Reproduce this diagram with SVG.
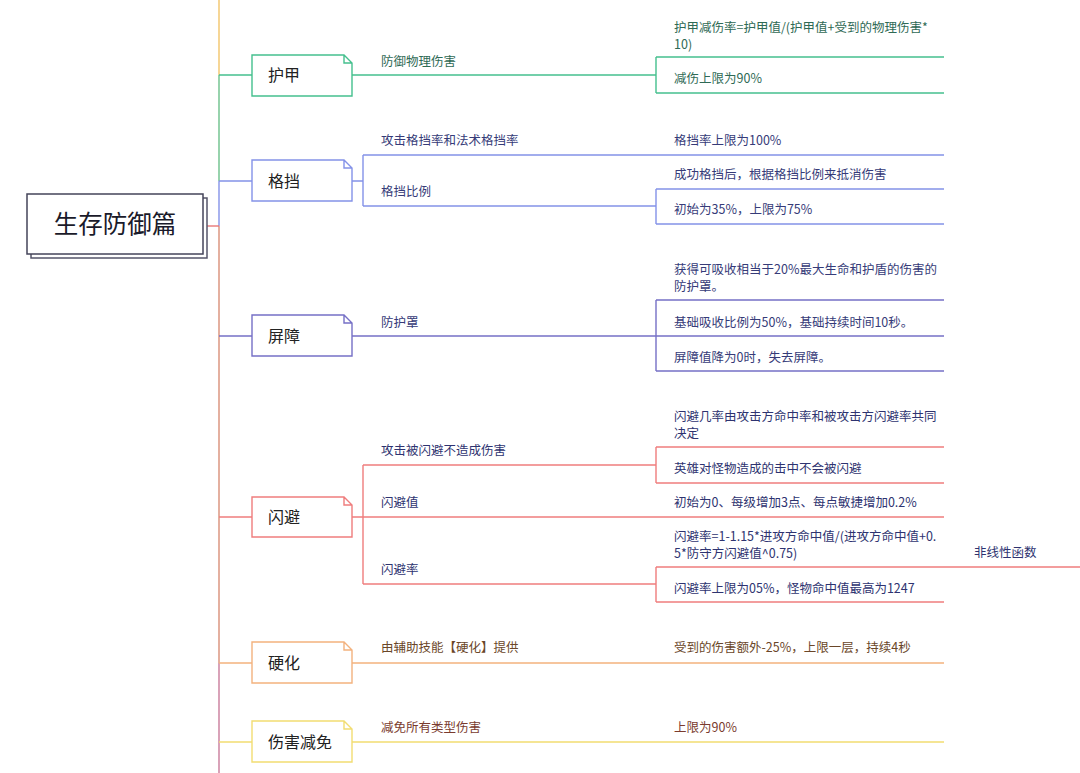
<svg xmlns="http://www.w3.org/2000/svg" width="1080" height="773" viewBox="0 0 1080 773">
<style>
text{font-family:"Noto Sans CJK SC","Noto Sans",sans-serif;}
.l{font-size:12.5px;}
.n{font-size:16px;fill:#222;}
.c{fill:none;stroke-width:1.4;}
.box{fill:#fff;stroke-width:1.4;}
.g{stroke:#45c08e;} .gt{fill:#2f6a55;}
.b{stroke:#8492e8;} .bt{fill:#363b78;}
.p{stroke:#7670c6;} .pt{fill:#363b78;}
.r{stroke:#ef7d7d;} .rt{fill:#2e3370;}
.o{stroke:#f3b27e;} .ot{fill:#6a4628;}
.y{stroke:#f2dd72;} .yt{fill:#7a3b2e;}
</style>
<rect width="1080" height="773" fill="#fff"/>
<g id="connectors">
  <line class="c" x1="219" y1="0" x2="219" y2="75" stroke="#f2c56a"/>
  <line class="c" x1="219" y1="75" x2="219" y2="181" stroke="#6cc08a"/>
  <line class="c" x1="219" y1="181" x2="219" y2="226" stroke="#8492e8"/>
  <line class="c" x1="219" y1="226" x2="219" y2="663" stroke="#d98f78"/>
  <line class="c" x1="219" y1="663" x2="219" y2="773" stroke="#c97b9b"/>
  <line class="c" x1="203" y1="226" x2="219" y2="226" stroke="#e87878"/>
  <path class="c g" d="M219,75 H252 M352,75 H656 M656,57 V93 M656,57 H944 M656,93 H944"/>
  <path class="c b" d="M219,181 H252 M352,181 H363 M363,155 V206 M363,155 H944 M363,206 H656 M656,189 V224 M656,189 H944 M656,224 H944"/>
  <path class="c p" d="M219,336 H252 M352,336 H944 M656,300 V371 M656,300 H944 M656,371 H944"/>
  <path class="c r" d="M219,517 H252 M352,517 H363 M363,465 V584 M363,465 H656 M363,517 H944 M363,584 H656 M656,447 V483 M656,447 H944 M656,483 H944 M656,567 V602 M656,567 H1080 M656,602 H944"/>
  <path class="c o" d="M219,663 H252 M352,663 H944"/>
  <path class="c y" d="M219,742 H252 M352,742 H944"/>
</g>
<g id="root">
  <rect x="31" y="198" width="176" height="60" fill="#fff" stroke="#55556a" stroke-width="1.5"/>
  <rect x="27" y="194" width="176" height="60" fill="#fff" stroke="#44445a" stroke-width="1.5"/>
  <text x="115" y="233" text-anchor="middle" font-size="24.5" fill="#1a1a2a">生存防御篇</text>
</g>
<g id="node-huja">
  <path class="box g" d="M252,55 H344 L352,63 V96 H252 Z M344,55 V63 H352"/>
  <text class="n" x="268" y="81">护甲</text>
  <text class="l gt" x="381" y="66">防御物理伤害</text>
  <text class="l gt" x="674" y="31.5">护甲减伤率=护甲值/(护甲值+受到的物理伤害*<tspan x="674" dy="17">10)</tspan></text>
  <text class="l gt" x="674" y="83">减伤上限为90%</text>
</g>
<g id="node-gedang">
  <path class="box b" d="M252,160 H344 L352,168 V201 H252 Z M344,160 V168 H352"/>
  <text class="n" x="268" y="187">格挡</text>
  <text class="l bt" x="381" y="145">攻击格挡率和法术格挡率</text>
  <text class="l bt" x="381" y="196">格挡比例</text>
  <text class="l bt" x="674" y="145">格挡率上限为100%</text>
  <text class="l bt" x="674" y="179">成功格挡后，根据格挡比例来抵消伤害</text>
  <text class="l bt" x="674" y="214">初始为35%，上限为75%</text>
</g>
<g id="node-pingzhang">
  <path class="box p" d="M252,315 H344 L352,323 V356 H252 Z M344,315 V323 H352"/>
  <text class="n" x="268" y="342">屏障</text>
  <text class="l pt" x="381" y="327">防护罩</text>
  <text class="l pt" x="674" y="274">获得可吸收相当于20%最大生命和护盾的伤害的<tspan x="674" dy="17">防护罩。</tspan></text>
  <text class="l pt" x="674" y="327">基础吸收比例为50%，基础持续时间10秒。</text>
  <text class="l pt" x="674" y="362">屏障值降为0时，失去屏障。</text>
</g>
<g id="node-shanbi">
  <path class="box r" d="M252,497 H344 L352,505 V537 H252 Z M344,497 V505 H352"/>
  <text class="n" x="268" y="523">闪避</text>
  <text class="l rt" x="381" y="455">攻击被闪避不造成伤害</text>
  <text class="l rt" x="381" y="507">闪避值</text>
  <text class="l rt" x="381" y="574">闪避率</text>
  <text class="l rt" x="674" y="420.5">闪避几率由攻击方命中率和被攻击方闪避率共同<tspan x="674" dy="17">决定</tspan></text>
  <text class="l rt" x="674" y="473">英雄对怪物造成的击中不会被闪避</text>
  <text class="l rt" x="674" y="507">初始为0、每级增加3点、每点敏捷增加0.2%</text>
  <text class="l rt" x="674" y="540.5">闪避率=1-1.15*进攻方命中值/(进攻方命中值+0.<tspan x="674" dy="17">5*防守方闪避值^0.75)</tspan></text>
  <text class="l rt" x="674" y="593">闪避率上限为05%，怪物命中值最高为1247</text>
  <text class="l rt" x="974" y="557">非线性函数</text>
</g>
<g id="node-yinghua">
  <path class="box o" d="M252,642 H344 L352,650 V683 H252 Z M344,642 V650 H352"/>
  <text class="n" x="268" y="669">硬化</text>
  <text class="l ot" x="381" y="652">由辅助技能【硬化】提供</text>
  <text class="l ot" x="674" y="652">受到的伤害额外-25%，上限一层，持续4秒</text>
</g>
<g id="node-shanghaijianmian">
  <path class="box y" d="M252,721 H344 L352,729 V762 H252 Z M344,721 V729 H352"/>
  <text class="n" x="268" y="748">伤害减免</text>
  <text class="l yt" x="381" y="732">减免所有类型伤害</text>
  <text class="l yt" x="674" y="732">上限为90%</text>
</g>
</svg>
